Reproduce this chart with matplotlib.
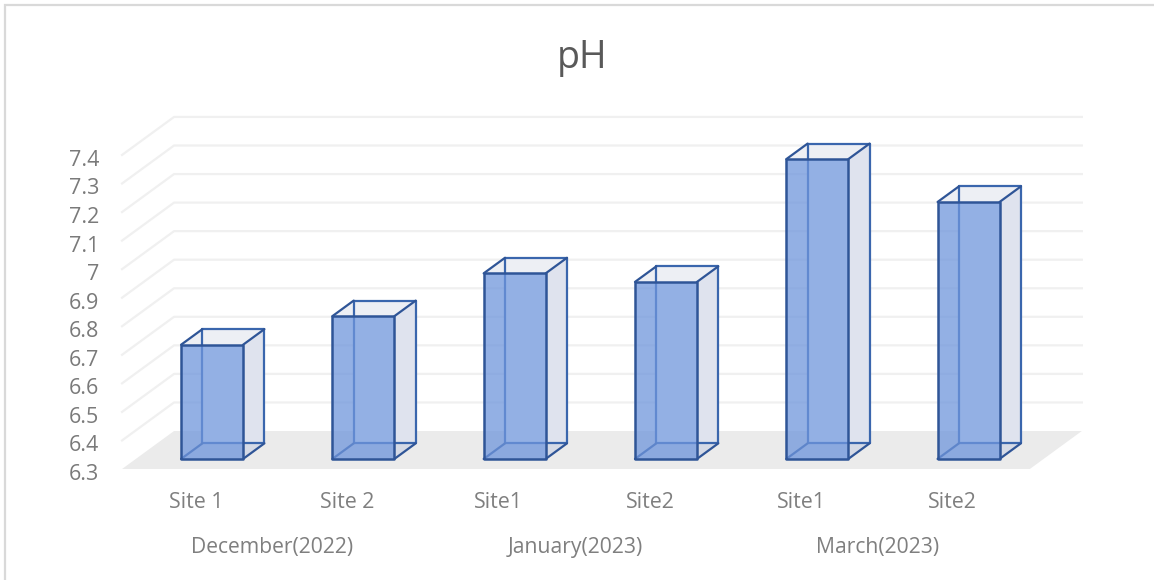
import matplotlib
matplotlib.use("Agg")
import matplotlib.pyplot as plt
from matplotlib.patches import Polygon

plt.rcParams['font.family'] = ['Open Sans', 'DejaVu Sans']

# data
sites = ["Site 1", "Site 2", "Site1", "Site2", "Site1", "Site2"]
months = ["December(2022)", "January(2023)", "March(2023)"]
ph_values = [6.70, 6.80, 6.95, 6.92, 7.35, 7.20]
y_ticks = [6.3, 6.4, 6.5, 6.6, 6.7, 6.8, 6.9, 7.0, 7.1, 7.2, 7.3, 7.4]
y_labels = ["6.3", "6.4", "6.5", "6.6", "6.7", "6.8", "6.9", "7", "7.1", "7.2", "7.3", "7.4"]

W, H = 1154, 580
PX_X = 151.3      # pixels per category
PX_Y = 285.5      # pixels per pH unit
X0, Y0 = 197.7, 469   # pixel of category 0 / pH 6.3 on the front edge
DX = 52 / PX_X    # shift of the back wall, in data units
DY = 38 / PX_Y
BASE = y_ticks[0]

fig = plt.figure(figsize=(W / 100, H / 100), dpi=100)
ax = fig.add_axes([0, 0, 1, 1])
ax.set_xlim(-X0 / PX_X, (W - X0) / PX_X)
ax.set_ylim(BASE - (H - Y0) / PX_Y, BASE + Y0 / PX_Y)
ax.axis("off")


# oblique projection: depth 0 is the front of the floor, depth 1 the back wall
def pr(x, v, d):
    return (x + d * DX, v + d * DY)


left, right = -0.5, len(sites) - 0.5

# chart border, only top and left show
ax.plot([0.0045, 0.0045, 1], [0, 0.991, 0.991], transform=ax.transAxes,
        color="#d9d9d9", lw=1.6, solid_joinstyle="miter", clip_on=False)

# floor
ax.add_patch(Polygon([pr(left, BASE, 0), pr(left, BASE, 1), pr(right, BASE, 1), pr(right, BASE, 0)],
                     closed=True, fc="#ebebeb", ec="none", zorder=1))

# grid lines on the side and back walls
for t in y_ticks[1:]:
    pts = [pr(left, t, 0), pr(left, t, 1), pr(right, t, 1)]
    ax.plot([p[0] for p in pts], [p[1] for p in pts], color="#f0f0f0", lw=1.6, zorder=1)

# bars
half = 31 / PX_X
d_front, d_back = 0.265, 0.675
nudge = 0.6 / PX_X
edge = "#2f5597"
for i, v in enumerate(ph_values):
    a, b = i - half + nudge, i + half + nudge
    back = [pr(a, BASE, d_back), pr(a, v, d_back), pr(b, v, d_back), pr(b, BASE, d_back)]
    # side and top faces
    side = [pr(b, BASE, d_front), pr(b, v, d_front), pr(b, v, d_back), pr(b, BASE, d_back)]
    top = [pr(a, v, d_front), pr(b, v, d_front), pr(b, v, d_back), pr(a, v, d_back)]
    bottom = [pr(a, BASE, d_front), pr(b, BASE, d_front), pr(b, BASE, d_back), pr(a, BASE, d_back)]
    ax.add_patch(Polygon(back, closed=True, fc="#ffffff", ec="none", zorder=2))
    ax.add_patch(Polygon(side, closed=True, fc="#c5cde0", alpha=0.55, ec="none", zorder=2))
    ax.add_patch(Polygon(top, closed=True, fc="#e2e5ee", alpha=0.6, ec="none", zorder=2))
    ax.add_patch(Polygon(bottom, closed=True, fc="#d5dbe8", alpha=0.5, ec="none", zorder=2))
    # back edges, they show through the front face
    for p, q in [(back[0], back[1]), (back[0], back[3]), (back[1], back[2]), (back[2], back[3])]:
        ax.plot([p[0], q[0]], [p[1], q[1]], color="#3a66ad", lw=1.6, zorder=3, solid_capstyle="round")
    for p, q in [(bottom[0], bottom[3]), (bottom[1], bottom[2]), (top[0], top[3]), (top[1], top[2])]:
        ax.plot([p[0], q[0]], [p[1], q[1]], color=edge, lw=1.6, zorder=3, solid_capstyle="round")
    # front face
    front = [pr(a, BASE, d_front), pr(a, v, d_front), pr(b, v, d_front), pr(b, BASE, d_front)]
    ax.add_patch(Polygon(front, closed=True, fc="#6f96dc", alpha=0.75, ec="none", zorder=4))
    ax.add_patch(Polygon(front, closed=True, fc="none", ec=edge, lw=1.8, zorder=5, joinstyle="round"))

# value labels on the left
for t, lab in zip(y_ticks, y_labels):
    ax.annotate(lab, xy=pr(left, t, 0), xytext=(-23 * 0.72, -5.5 * 0.72), textcoords="offset points",
                ha="right", va="center", fontsize=15.5, color="#7a7a7a")

# category labels, two levels
for i, s in enumerate(sites):
    ax.annotate(s, xy=(i, BASE), xytext=(-1.5 * 0.72, -33 * 0.72), textcoords="offset points",
                ha="center", va="center", fontsize=15.4, color="#7f7f7f")
for j, m in enumerate(months):
    ax.annotate(m, xy=(2 * j + 0.5, BASE), xytext=(-1 * 0.72, -78 * 0.72), textcoords="offset points",
                ha="center", va="center", fontsize=15.2, color="#7f7f7f")

ax.text(582 / W, 1 - 58 / H, "pH", transform=ax.transAxes, ha="center", va="center",
        fontsize=27, color="#595959")

fig.savefig("out.png", dpi=100)
